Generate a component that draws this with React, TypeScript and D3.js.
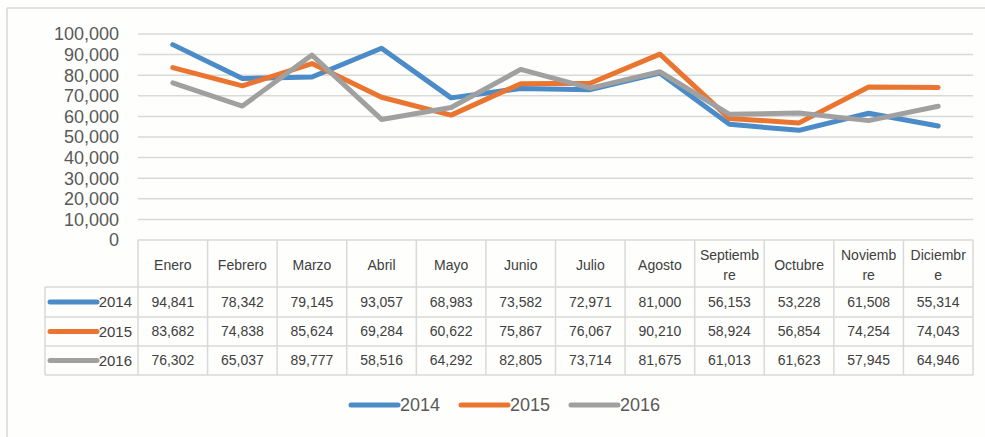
import React from "react";
import * as d3 from "d3";

const months = ["Enero", "Febrero", "Marzo", "Abril", "Mayo", "Junio", "Julio", "Agosto", "Septiembre", "Octubre", "Noviembre", "Diciembre"];
const monthHeader = [["Enero"], ["Febrero"], ["Marzo"], ["Abril"], ["Mayo"], ["Junio"], ["Julio"], ["Agosto"], ["Septiemb", "re"], ["Octubre"], ["Noviemb", "re"], ["Diciembr", "e"]];
const years = ["2014", "2015", "2016"];
const v2014 = [94841, 78342, 79145, 93057, 68983, 73582, 72971, 81000, 56153, 53228, 61508, 55314];
const v2015 = [83682, 74838, 85624, 69284, 60622, 75867, 76067, 90210, 58924, 56854, 74254, 74043];
const v2016 = [76302, 65037, 89777, 58516, 64292, 82805, 73714, 81675, 61013, 61623, 57945, 64946];
const yTicks = [0, 10000, 20000, 30000, 40000, 50000, 60000, 70000, 80000, 90000, 100000];

const colors = ["#4a8bc8", "#ea7530", "#a0a0a0"];
const seriesValues = [v2014, v2015, v2016];

export default function App() {
  const W = 985;
  const H = 437;
  const left = 138;
  const right = 973;
  const x = d3.scaleBand().domain(months).range([left, right]);
  const y = d3.scaleLinear().domain([0, 100000]).range([240, 34]);
  const fmt = d3.format(",");
  const line = d3
    .line<number>()
    .x((d, i) => (x(months[i]) as number) + x.bandwidth() / 2)
    .y((d) => y(d));

  const rowTop = [240, 287, 317, 346, 375];
  const tableLeft = 45;
  const grid = "#d9d9d9";
  const font = "'Liberation Sans', Arial, sans-serif";

  return (
    <svg width={W} height={H} style={{ position: "absolute", left: 0, top: 0 }}>
      <rect x={0} y={0} width={W} height={H} fill="#fefefc" />
      <line x1={7} x2={W} y1={8} y2={8} stroke={grid} strokeWidth={1.5} />
      <line x1={7} x2={7} y1={8} y2={H} stroke={grid} strokeWidth={1.5} />

      {yTicks.map((t) => (
        <g key={t}>
          {t > 0 && <line x1={left} x2={right} y1={y(t)} y2={y(t)} stroke={grid} strokeWidth={1.5} />}
          <text x={119} y={y(t)} dy="0.35em" textAnchor="end" fontFamily={font} fontSize={18} fill="#595959">
            {fmt(t)}
          </text>
        </g>
      ))}

      {/* data table */}
      <g stroke={grid} strokeWidth={1.5} fill="none">
        <line x1={left} x2={right} y1={rowTop[0]} y2={rowTop[0]} />
        {rowTop.slice(1).map((r) => (
          <line key={r} x1={tableLeft} x2={right} y1={r} y2={r} />
        ))}
        <line x1={tableLeft} x2={tableLeft} y1={rowTop[1]} y2={rowTop[4]} />
        {months.map((m) => (
          <line key={m} x1={x(m)} x2={x(m)} y1={rowTop[0]} y2={rowTop[4]} />
        ))}
        <line x1={right} x2={right} y1={rowTop[0]} y2={rowTop[4]} />
      </g>

      {monthHeader.map((lines, i) => {
        const cx = (x(months[i]) as number) + x.bandwidth() / 2;
        const mid = (rowTop[0] + rowTop[1]) / 2 + 1.5;
        return (
          <text key={months[i]} x={cx} textAnchor="middle" fontFamily={font} fontSize={14} fill="#404040">
            {lines.map((l, j) => (
              <tspan key={j} x={cx} y={mid + (j - (lines.length - 1) / 2) * 20} dy="0.35em">
                {l}
              </tspan>
            ))}
          </text>
        );
      })}

      {seriesValues.map((vals, s) => {
        const cy = (rowTop[s + 1] + rowTop[s + 2]) / 2;
        return (
          <g key={years[s]}>
            <line x1={50} x2={97} y1={cy} y2={cy} stroke={colors[s]} strokeWidth={5} strokeLinecap="round" />
            <text x={132} y={cy} dy="0.35em" textAnchor="end" fontFamily={font} fontSize={15} fill="#404040">
              {years[s]}
            </text>
            {vals.map((v, i) => (
              <text
                key={i}
                x={(x(months[i]) as number) + x.bandwidth() / 2}
                y={cy}
                dy="0.35em"
                textAnchor="middle"
                fontFamily={font}
                fontSize={14}
                fill="#404040"
              >
                {fmt(v)}
              </text>
            ))}
          </g>
        );
      })}

      {seriesValues.map((vals, s) => (
        <path
          key={years[s]}
          d={line(vals) as string}
          fill="none"
          stroke={colors[s]}
          strokeWidth={5}
          strokeLinejoin="round"
          strokeLinecap="round"
        />
      ))}

      {/* legend */}
      {years.map((yr, s) => {
        const lx = 351 + s * 110;
        return (
          <g key={yr}>
            <line x1={lx} x2={lx + 47} y1={405} y2={405} stroke={colors[s]} strokeWidth={5} strokeLinecap="round" />
            <text x={lx + 49} y={405} dy="0.35em" fontFamily={font} fontSize={18} fill="#595959">
              {yr}
            </text>
          </g>
        );
      })}
    </svg>
  );
}
